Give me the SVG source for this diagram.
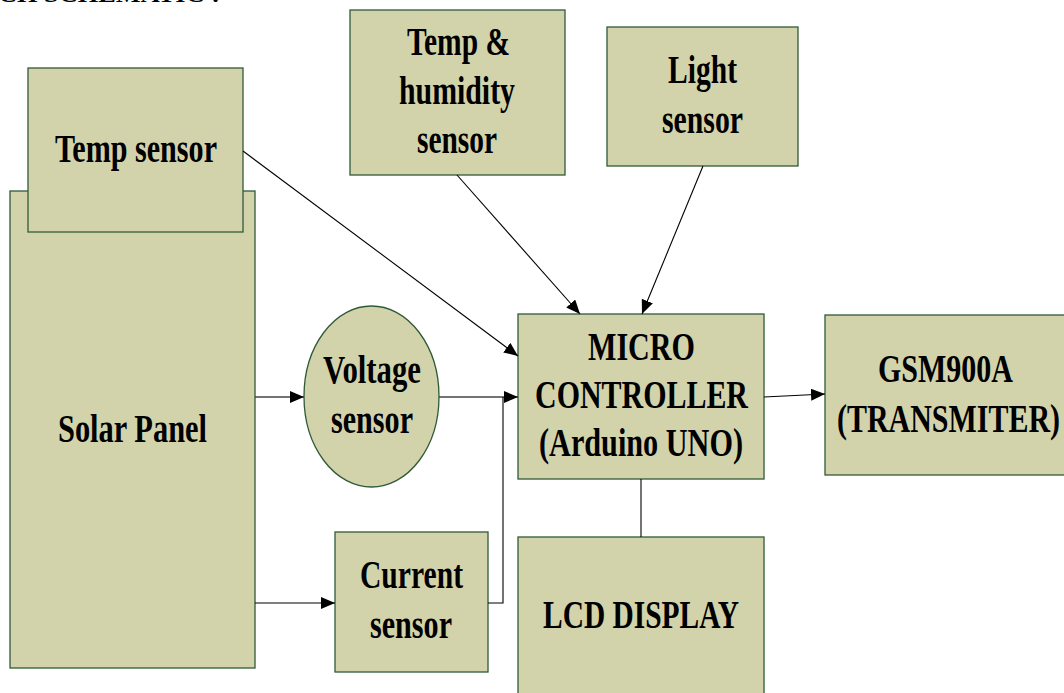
<svg xmlns="http://www.w3.org/2000/svg" width="1064" height="693" viewBox="0 0 1064 693">
<defs>
<marker id="arr" markerUnits="userSpaceOnUse" markerWidth="14" markerHeight="12" viewBox="0 0 14 12" refX="14" refY="6" orient="auto">
<path d="M0,0 L14,6 L0,12 Z" fill="#000"/>
</marker>
</defs>
<style>
.box{fill:#d3d3ab;stroke:#2f5a38;stroke-width:1.3}
.t{font-family:"Liberation Serif","Times New Roman",serif;font-weight:bold;font-size:41px;fill:#000}
.c{fill:none;stroke:#000;stroke-width:1.1}
.g{fill:none;stroke:#444;stroke-width:1.6}
</style>
<rect width="1064" height="693" fill="#fff"/>
<text class="t" x="-2" y="2" style="font-size:24px" textLength="222" lengthAdjust="spacingAndGlyphs">CH SCHEMATIC :</text>

<g id="solar-panel">
<rect class="box" x="10" y="191" width="245" height="477"/>
<text class="t" x="58" y="442" textLength="149" lengthAdjust="spacingAndGlyphs">Solar Panel</text>
</g>
<g id="temp-sensor">
<rect class="box" x="28" y="68" width="215" height="164"/>
<text class="t" x="55" y="162" textLength="162" lengthAdjust="spacingAndGlyphs">Temp sensor</text>
</g>
<g id="temp-humidity-sensor">
<rect class="box" x="350" y="10" width="215" height="165"/>
<text class="t" x="407" y="55" textLength="103" lengthAdjust="spacingAndGlyphs">Temp &amp;</text>
<text class="t" x="399" y="104" textLength="116" lengthAdjust="spacingAndGlyphs">humidity</text>
<text class="t" x="417" y="153" textLength="80" lengthAdjust="spacingAndGlyphs">sensor</text>
</g>
<g id="light-sensor">
<rect class="box" x="607" y="27" width="191" height="139"/>
<text class="t" x="668" y="83" textLength="69" lengthAdjust="spacingAndGlyphs">Light</text>
<text class="t" x="662" y="133" textLength="81" lengthAdjust="spacingAndGlyphs">sensor</text>
</g>
<g id="voltage-sensor">
<ellipse class="box" cx="371.5" cy="396.5" rx="67.5" ry="90.5"/>
<text class="t" x="323" y="383" textLength="98" lengthAdjust="spacingAndGlyphs">Voltage</text>
<text class="t" x="331" y="433" textLength="82" lengthAdjust="spacingAndGlyphs">sensor</text>
</g>
<g id="current-sensor">
<rect class="box" x="335" y="532" width="153" height="140"/>
<text class="t" x="360" y="588" textLength="103" lengthAdjust="spacingAndGlyphs">Current</text>
<text class="t" x="370" y="638" textLength="82" lengthAdjust="spacingAndGlyphs">sensor</text>
</g>
<g id="microcontroller">
<rect class="box" x="518" y="314" width="246" height="165"/>
<text class="t" x="588" y="360" textLength="107" lengthAdjust="spacingAndGlyphs">MICRO</text>
<text class="t" x="535" y="408" textLength="213" lengthAdjust="spacingAndGlyphs">CONTROLLER</text>
<text class="t" x="539" y="456" textLength="204" lengthAdjust="spacingAndGlyphs">(Arduino UNO)</text>
</g>
<g id="lcd-display">
<rect class="box" x="518" y="537" width="246" height="170"/>
<text class="t" x="543" y="628" textLength="196" lengthAdjust="spacingAndGlyphs">LCD DISPLAY</text>
</g>
<g id="gsm">
<rect class="box" x="825" y="315" width="245" height="160"/>
<text class="t" x="878" y="382" textLength="135" lengthAdjust="spacingAndGlyphs">GSM900A</text>
<text class="t" x="837" y="432" textLength="223" lengthAdjust="spacingAndGlyphs">(TRANSMITER)</text>
</g>

<g id="connectors">
<line class="c" x1="243" y1="151" x2="518" y2="356" marker-end="url(#arr)"/>
<line class="c" x1="457" y1="175" x2="580" y2="314" marker-end="url(#arr)"/>
<line class="c" x1="703" y1="166" x2="642" y2="314" marker-end="url(#arr)"/>
<line class="g" x1="255" y1="397" x2="304" y2="397" marker-end="url(#arr)"/>
<line class="g" x1="439" y1="397" x2="518" y2="397" marker-end="url(#arr)"/>
<line class="c" x1="255" y1="603" x2="335" y2="603" marker-end="url(#arr)"/>
<polyline class="c" points="488,603 503,603 503,397"/>
<line class="c" x1="764" y1="397" x2="825" y2="394" marker-end="url(#arr)"/>
<line class="c" x1="641" y1="479" x2="641" y2="537"/>
</g>
</svg>
